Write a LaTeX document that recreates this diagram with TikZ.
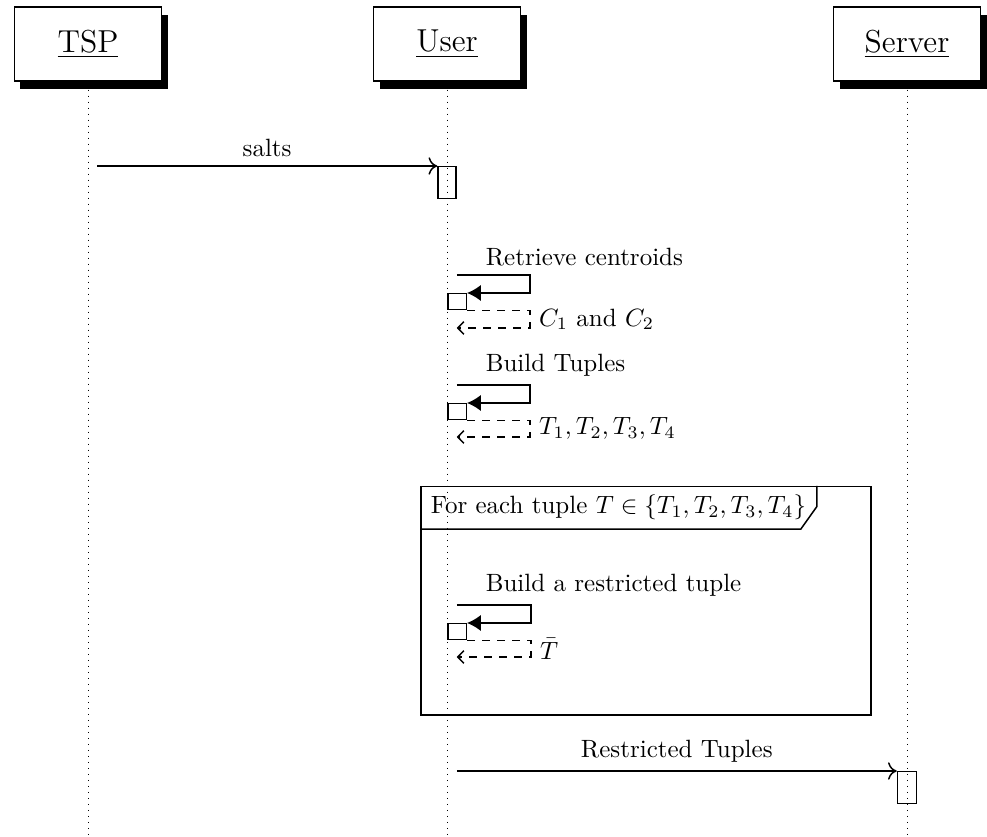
\documentclass[tikz,border=0pt]{standalone}
\usetikzlibrary{positioning,arrows.meta,shadows}
\tikzset{
inst/.style={
  draw,
  fill=white,
  minimum width=58.8pt,
  minimum height=29.6pt,
  font=\fontsize{12.7}{15}\selectfont,
  drop shadow={shadow xshift=2.4pt,shadow yshift=-3.2pt,fill=black,opacity=1}
  },
lifeline/.style={dotted,line width=0.4pt},
act/.style={draw,minimum width=7.4pt,inner sep=0pt},
call/.style={-{To[length=3.5pt,width=7pt]}},
selfcall/.style={-{Latex[length=5.5pt,width=6.4pt]}},
ret/.style={dashed,-{Straight Barb[length=2.4pt,width=5pt]}}
}

\begin{document}
\begin{tikzpicture}[x=0.4pt,y=-0.4pt,line width=0.6pt]
\useasboundingbox (0,0) rectangle (987,837);
\coordinate (bottom) at (0,837);

% instances
\node[inst] (tsp) at (88,44) {\underline{TSP}};
\node[inst] (user) at (447,44) {\underline{User}};
\node[inst] (server) at (907,44) {\underline{Server}};

\draw[lifeline] ([yshift=-3.2pt]tsp.south) -- (tsp |- bottom);
\draw[lifeline] ([yshift=-3.2pt]user.south) -- (user |- bottom);
\draw[lifeline] ([yshift=-3.2pt]server.south) -- (server |- bottom);

% salts
\coordinate (tsp-out) at ([xshift=3.6pt]tsp.south);
\node[act,minimum width=7.2pt,minimum height=12.8pt,anchor=north] (salts-act) at (user |- 0,166) {};
\draw[call] (tsp-out |- salts-act.north) -- node[above] {salts} (salts-act.north west);

% retrieve centroids
\coordinate (rc-top) at (530,275);
\coordinate (rc-end) at (530,328);
\node[act,minimum height=6.4pt,anchor=north west] (rc-act) at (user |- 0,293) {};
\draw[selfcall] (salts-act.east |- rc-top) node[anchor=south west,xshift=8pt] {Retrieve centroids}
  -- (rc-top) |- (rc-act.north east);
\draw[ret] (rc-act.south east) -| node[pos=0.75,right] {$C_1$ and $C_2$} (rc-end)
  -- (salts-act.east |- rc-end);

% build tuples
\coordinate (bt-top) at (530,385);
\coordinate (bt-end) at (530,437);
\node[act,minimum height=6.4pt,anchor=north west] (bt-act) at (user |- 0,403) {};
\draw[selfcall] (salts-act.east |- bt-top) node[anchor=south west,xshift=8pt] {Build Tuples}
  -- (bt-top) |- (bt-act.north east);
\draw[ret] (bt-act.south east) -| node[pos=0.75,right] {$T_1, T_2, T_3, T_4$} (bt-end)
  -- (salts-act.east |- bt-end);

% loop
\node[draw,anchor=north west,minimum width=180pt,minimum height=91.2pt] (loop) at (420,486) {};
\node[anchor=north west,inner xsep=4pt,minimum height=15.6pt] (loop-title) at (loop.north west)
  {For each tuple $T \in \{T_1, T_2, T_3, T_4\}$};
\draw (loop-title.north east) -- ([yshift=9pt]loop-title.south east)
  -- ([xshift=-6.4pt]loop-title.south east) -- (loop-title.south west);

% build a restricted tuple
\coordinate (br-top) at (531,605);
\coordinate (br-end) at (531,657);
\node[act,minimum height=6.4pt,anchor=north west] (br-act) at (user |- 0,623) {};
\draw[selfcall] (salts-act.east |- br-top) node[anchor=south west,xshift=8pt] {Build a restricted tuple}
  -- (br-top) |- (br-act.north east);
\draw[ret] (br-act.south east) -| node[pos=0.75,right] {$\bar{T}$} (br-end)
  -- (salts-act.east |- br-end);

% restricted tuples
\node[act,minimum width=7.6pt,minimum height=12.8pt,anchor=north] (server-act) at (server |- 0,771) {};
\draw[call] (salts-act.east |- server-act.north) -- node[above] {Restricted Tuples} (server-act.north west);

\end{tikzpicture}
\end{document}
